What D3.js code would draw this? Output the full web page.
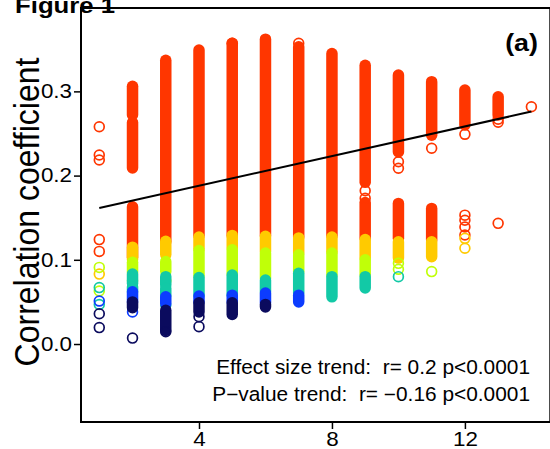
<!DOCTYPE html>
<html>
<head>
<meta charset="utf-8">
<script src="https://cdn.jsdelivr.net/npm/d3@7"></script>
<style>
  body { margin: 0; background: #fff; }
  svg { display: block; font-family: "Liberation Sans", Arial, sans-serif; }
  .note { white-space: pre; }
</style>
</head>
<body>
<div id="chart"></div>
<script>
// tick labels
const xTicks = [4, 8, 12];
const yTicks = [0.0, 0.1, 0.2, 0.3];

// colour bins, lowest first (lower bins are drawn on top)
const binColors = ['#0b0b5e', '#0c3cff', '#12c9a6', '#c0ff08', '#ffca00', '#ff3600'];

// dense runs of overlapping circles: [x, low, high, bin]
const runs = [
  [2, 0.272, 0.306, 5], [2, 0.209, 0.263, 5], [2, 0.103, 0.163, 5], [2, 0.100, 0.115, 4],
  [2, 0.085, 0.097, 3], [2, 0.072, 0.083, 2], [2, 0.062, 0.068, 2], [2, 0.050, 0.062, 1], [2, 0.043, 0.050, 0],
  [3, 0.1215, 0.337, 5], [3, 0.106, 0.122, 4], [3, 0.086, 0.098, 3], [3, 0.070, 0.080, 2],
  [3, 0.058, 0.066, 2], [3, 0.048, 0.056, 1], [3, 0.016, 0.040, 0],
  [4, 0.129, 0.349, 5], [4, 0.113, 0.127, 4], [4, 0.081, 0.111, 3], [4, 0.058, 0.079, 2],
  [4, 0.050, 0.057, 1], [4, 0.038, 0.049, 0],
  [5, 0.129, 0.357, 5], [5, 0.114, 0.129, 4], [5, 0.083, 0.112, 3], [5, 0.0585, 0.082, 2],
  [5, 0.050, 0.058, 1], [5, 0.035, 0.049, 0],
  [6, 0.129, 0.362, 5], [6, 0.110, 0.128, 4], [6, 0.078, 0.108, 3], [6, 0.062, 0.076, 2],
  [6, 0.049, 0.0606, 1], [6, 0.044, 0.047, 0],
  [7, 0.127, 0.353, 5], [7, 0.108, 0.126, 4], [7, 0.086, 0.106, 3], [7, 0.0606, 0.084, 2],
  [7, 0.050, 0.058, 1],
  [8, 0.129, 0.345, 5], [8, 0.110, 0.127, 4], [8, 0.082, 0.108, 3], [8, 0.056, 0.080, 2],
  [9, 0.192, 0.331, 5], [9, 0.126, 0.168, 5], [9, 0.102, 0.124, 4], [9, 0.082, 0.100, 3],
  [9, 0.0665, 0.080, 2],
  [10, 0.228, 0.3195, 5], [10, 0.1255, 0.167, 5], [10, 0.102, 0.1215, 4],
  [11, 0.248, 0.3115, 5], [11, 0.1235, 0.161, 5], [11, 0.1037, 0.1215, 4],
  [12, 0.260, 0.3017, 5],
  [13, 0.272, 0.2935, 5]
];

// single circles: [x, y, bin]
const points = [
  [1, 0.258, 5], [1, 0.2245, 5], [1, 0.2185, 5], [1, 0.124, 5], [1, 0.110, 5],
  [1, 0.091, 3], [1, 0.083, 4], [1, 0.063, 3], [1, 0.067, 2], [1, 0.047, 2], [1, 0.051, 1],
  [1, 0.036, 0], [1, 0.0195, 0],
  [2, 0.075, 3], [2, 0.038, 1], [2, 0.007, 0],
  [3, 0.075, 3], [3, 0.046, 2], [3, 0.0145, 0],
  [4, 0.0325, 0], [4, 0.0206, 0],
  [5, 0.357, 5], [7, 0.357, 5],
  [9, 0.182, 5], [9, 0.173, 5],
  [10, 0.2165, 5], [10, 0.2087, 5], [10, 0.0958, 3], [10, 0.0887, 3], [10, 0.080, 2],
  [11, 0.2324, 5], [11, 0.086, 3],
  [12, 0.249, 5], [12, 0.153, 5], [12, 0.147, 5], [12, 0.139, 5], [12, 0.1295, 5],
  [12, 0.1255, 4], [12, 0.1137, 4],
  [13, 0.267, 5], [13, 0.2633, 5], [13, 0.1433, 5],
  [14, 0.2818, 5]
];

// fitted effect size trend
const trendX = [1, 14];
const trendY = [0.1615, 0.276];

const notes = ['Effect size trend:  r= 0.2 p<0.0001', 'P\u2212value trend:  r= \u22120.16 p<0.0001'];

const width = 550, height = 449;
const plotLeft = 81, plotRight = 550.3, plotTop = 8, plotBottom = 422;
const r = 4.9, sw = 1.7;
// text in the picture is a bit wider than it is tall
const sx = 1.12;

const svg = d3.select('#chart').append('svg')
    .attr('width', width)
    .attr('height', height);

const x = d3.scaleLinear().domain([0.45, 14.53]).range([plotLeft, 549]);
const y = d3.scaleLinear().domain([-0.0926, 0.399]).range([plotBottom, plotTop]);

// figure label sits under the frame
svg.append('text')
    .attr('transform', `translate(15,12.5) scale(${sx},1)`)
    .attr('font-size', 23).attr('font-weight', 'bold')
    .text('Figure 1');

// marks, highest bin first
const marks = svg.append('g');
for (let b = binColors.length - 1; b >= 0; --b) {
    const col = binColors[b];
    marks.selectAll(null)
        .data(runs.filter(d => d[3] == b))
        .enter().append('rect')
        .attr('x', d => x(d[0]) - r - sw / 2)
        .attr('y', d => y(d[2]) - r - sw / 2)
        .attr('width', 2 * r + sw)
        .attr('height', d => y(d[1]) - y(d[2]) + 2 * r + sw)
        .attr('rx', r + sw / 2)
        .attr('fill', col);
    marks.selectAll(null)
        .data(points.filter(d => d[2] == b))
        .enter().append('circle')
        .attr('cx', d => x(d[0]))
        .attr('cy', d => y(d[1]))
        .attr('r', r)
        .attr('fill', 'none')
        .attr('stroke', col)
        .attr('stroke-width', sw);
}

// trend line
svg.append('path')
    .attr('d', d3.line().x(d => x(d[0])).y(d => y(d[1]))(trendX.map((v, i) => [v, trendY[i]])))
    .attr('stroke', '#000')
    .attr('stroke-width', 2)
    .attr('fill', 'none');

// frame
svg.append('rect')
    .attr('x', plotLeft).attr('y', plotTop)
    .attr('width', plotRight - plotLeft).attr('height', plotBottom - plotTop)
    .attr('fill', 'none')
    .attr('stroke', '#000')
    .attr('stroke-width', 2);

// axes
const xAxis = d3.axisBottom(x).tickValues(xTicks).tickSize(7).tickPadding(3).tickFormat(d3.format('d'));
const yAxis = d3.axisLeft(y).tickValues(yTicks).tickSize(7).tickPadding(2).tickFormat(d3.format('.1f'));

svg.append('g')
    .attr('transform', `translate(0,${plotBottom})`)
    .call(xAxis)
    .call(g => g.select('.domain').remove())
    .call(g => g.selectAll('line').attr('stroke-width', 1.5))
    .call(g => g.selectAll('text')
        .attr('font-size', 20).attr('font-family', null).attr('fill', '#000')
        .attr('transform', `scale(${sx},1)`));

svg.append('g')
    .attr('transform', `translate(${plotLeft},0)`)
    .call(yAxis)
    .call(g => g.select('.domain').remove())
    .call(g => g.selectAll('line').attr('stroke-width', 1.5))
    .call(g => g.selectAll('text')
        .attr('font-size', 20).attr('font-family', null).attr('fill', '#000')
        .attr('x', -9 / sx)
        .attr('transform', `scale(${sx},1)`));

// axis title
svg.append('text')
    .attr('transform', `translate(39,212) scale(${sx},1) rotate(-90)`)
    .attr('text-anchor', 'middle')
    .attr('font-size', 32)
    .text('Correlation coefficient');

// panel letter
svg.append('text')
    .attr('transform', `translate(538,51) scale(${sx},1)`)
    .attr('text-anchor', 'end')
    .attr('font-size', 24).attr('font-weight', 'bold')
    .text('(a)');

// trend notes
svg.selectAll('.note')
    .data(notes)
    .enter().append('text')
    .attr('class', 'note')
    .attr('transform', (d, i) => `translate(530,${374 + i * 26.5}) scale(1.07,1)`)
    .attr('text-anchor', 'end')
    .attr('font-size', 19.5)
    .text(d => d);
</script>
</body>
</html>
